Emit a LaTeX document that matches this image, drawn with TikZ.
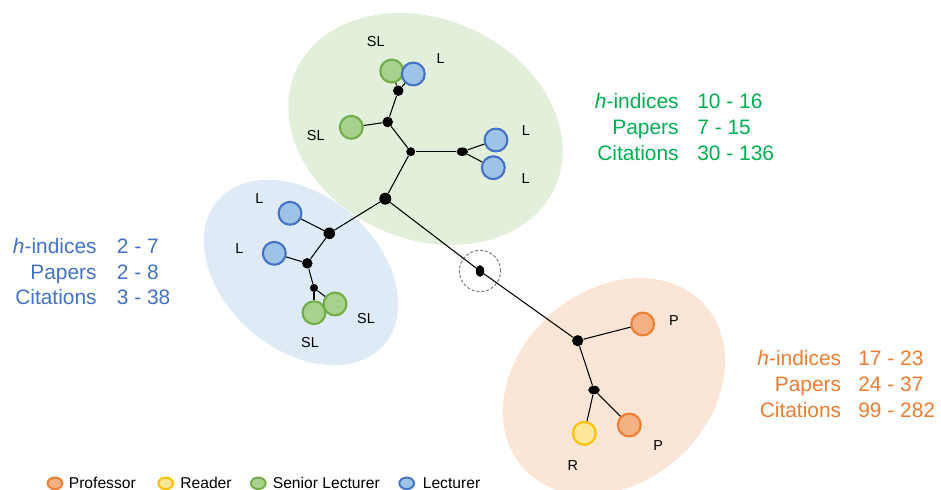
\documentclass[tikz,border=0pt]{standalone}
\usepackage{fontspec}
\setmainfont{Liberation Sans}
\usetikzlibrary{shapes.geometric}

\definecolor{slfill}{HTML}{A9D18E}
\definecolor{sldraw}{HTML}{70AD47}
\definecolor{lfill}{HTML}{9DC3E6}
\definecolor{ldraw}{HTML}{4472C4}
\definecolor{pfill}{HTML}{F4B183}
\definecolor{pdraw}{HTML}{ED7D31}
\definecolor{rfill}{HTML}{FFE699}
\definecolor{rdraw}{HTML}{FFC000}
\definecolor{greenzone}{HTML}{E2EFDA}
\definecolor{bluezone}{HTML}{DEEBF7}
\definecolor{orangezone}{HTML}{FBE5D6}
\definecolor{greentext}{HTML}{00B050}

\tikzset{my member/.style={circle, draw, line width=1.2pt, minimum size=13pt, inner sep=0pt},
my sl/.style={my member, fill=slfill, draw=sldraw},
my l/.style={my member, fill=lfill, draw=ldraw},
my p/.style={my member, fill=pfill, draw=pdraw},
my r/.style={my member, fill=rfill, draw=rdraw},
my joint/.style={circle, fill=black, inner sep=0pt, minimum size=6pt},
my flat joint/.style={ellipse, fill=black, inner sep=0pt, minimum width=6.6pt, minimum height=4.8pt},
my edge/.style={line width=0.6pt},
my ring/.style={circle, draw=black!50, dash pattern=on 1.7pt off 1.1pt, line width=0.6pt, minimum size=23.5pt, inner sep=0pt},
my tag/.style={inner sep=0pt, font=\fontsize{8.2}{10}\selectfont},
my stat/.style={inner sep=0pt, font=\fontsize{11.9}{14}\selectfont},
my key/.style={ellipse, draw, line width=1.1pt, minimum width=8.4pt, minimum height=6.6pt, inner sep=0pt},
my key text/.style={inner sep=0pt, anchor=base west, font=\fontsize{8.9}{10}\selectfont},}

\begin{document}
\begin{tikzpicture}[x=0.02cm, y=-0.02cm]
\useasboundingbox (0,0) rectangle (941,490);

% groups
\fill [greenzone, rotate around={-24:(425.5,129.0)}] (425.5,129.0) ellipse [x radius=142, y radius=110];
\fill [bluezone, rotate around={-41:(301.0,272.5)}] (301.0,272.5) ellipse [x radius=110, y radius=77];
\fill [orangezone, rotate around={42:(614.0,386.5)}] (614.0,386.5) ellipse [x radius=122, y radius=96];

% members
\node [my sl] (gsl1) at ( 391.7,  71.0) {};
\node [my l]  (gl1)  at ( 413.3,  74.0) {};
\node [my sl] (gsl2) at ( 351.3, 127.3) {};
\node [my l]  (gl2)  at ( 496.0, 140.0) {};
\node [my l]  (gl3)  at ( 493.3, 167.7) {};
\node [my l]  (bl1)  at ( 290.0, 213.3) {};
\node [my l]  (bl2)  at ( 274.3, 253.3) {};
\node [my sl] (bsl1) at ( 335.0, 304.0) {};
\node [my sl] (bsl2) at ( 314.0, 312.7) {};
\node [my p]  (op1)  at ( 642.7, 324.0) {};
\node [my r]  (or1)  at ( 584.3, 433.3) {};
\node [my p]  (op2)  at ( 629.3, 425.0) {};

% joints
\node [my joint] (gj1) at ( 398.3,  90.7) {};
\node [my joint] (gj2) at ( 387.7, 122.0) {};
\node [my joint, minimum size=5.1pt] (gj3) at ( 410.7, 151.7) {};
\node [my flat joint] (gj4) at ( 462.3, 151.7) {};
\node [my joint, minimum size=6.8pt] (gj5) at ( 385.3, 198.7) {};
\node [my joint, minimum size=6.6pt] (bj1) at ( 329.3, 233.3) {};
\node [my joint] (bj2) at ( 307.3, 263.3) {};
\node [my joint, minimum size=4.6pt] (bj3) at ( 314.0, 288.0) {};
\node [my flat joint, minimum width=4.8pt, minimum height=6.6pt] (root) at ( 480.0, 271.0) {};
\node [my ring] (ring) at ( 480.0, 271.0) {};
\node [my joint, minimum size=6.4pt] (oj1) at ( 577.7, 340.7) {};
\node [my flat joint] (oj2) at ( 594.0, 390.0) {};

% branches
\draw [my edge] (gj1) -- (gsl1);
\draw [my edge] (gj1) -- (gl1);
\draw [my edge] (gj1) -- (gj2);
\draw [my edge] (gj2) -- (gsl2);
\draw [my edge] (gj2) -- (gj3);
\draw [my edge] (gj3) -- (gj4);
\draw [my edge] (gj4) -- (gl2);
\draw [my edge] (gj4) -- (gl3);
\draw [my edge] (gj3) -- (gj5);
\draw [my edge] (gj5) -- (bj1);
\draw [my edge] (gj5) -- (root);
\draw [my edge] (bj1) -- (bl1);
\draw [my edge] (bj1) -- (bj2);
\draw [my edge] (bj2) -- (bl2);
\draw [my edge] (bj2) -- (bj3);
\draw [my edge] (bj3) -- (bsl1);
\draw [my edge] (bj3) -- (bsl2);
\draw [my edge] (root) -- (oj1);
\draw [my edge] (oj1) -- (op1);
\draw [my edge] (oj1) -- (oj2);
\draw [my edge] (oj2) -- (or1);
\draw [my edge] (oj2) -- (op2);

% role tags
\node [my tag] (tgsl1) at ( 375.7,  41.7) {SL};
\node [my tag] (tgl1)  at ( 440.7,  58.7) {L};
\node [my tag] (tgsl2) at ( 315.7, 135.3) {SL};
\node [my tag] (tgl2)  at ( 526.0, 131.0) {L};
\node [my tag] (tgl3)  at ( 525.7, 179.0) {L};
\node [my tag] (tbl1)  at ( 259.3, 198.3) {L};
\node [my tag] (tbl2)  at ( 239.3, 249.0) {L};
\node [my tag] (tbsl1) at ( 366.0, 318.3) {SL};
\node [my tag] (tbsl2) at ( 310.0, 342.3) {SL};
\node [my tag] (top1)  at ( 674.0, 320.7) {P};
\node [my tag] (top2)  at ( 658.3, 446.0) {P};
\node [my tag] (tor1)  at ( 572.7, 466.0) {R};

% group figures
\node [my stat, text=greentext, anchor=base east] (gh)  at ( 679.0, 108.0) {\textit{h}-indices};
\node [my stat, text=greentext, anchor=base west] (ghv) at ( 697.0, 108.0) {10 - 16};
\node [my stat, text=greentext, anchor=base east] (gp)  at ( 679.0, 134.0) {Papers};
\node [my stat, text=greentext, anchor=base west] (gpv) at ( 697.0, 134.0) {7 - 15};
\node [my stat, text=greentext, anchor=base east] (gc)  at ( 679.0, 160.0) {Citations};
\node [my stat, text=greentext, anchor=base west] (gcv) at ( 697.0, 160.0) {30 - 136};

\node [my stat, text=ldraw, anchor=base east] (bh)  at (  97.0, 253.5) {\textit{h}-indices};
\node [my stat, text=ldraw, anchor=base west] (bhv) at ( 116.5, 253.5) {2 - 7};
\node [my stat, text=ldraw, anchor=base east] (bp)  at (  97.0, 279.0) {Papers};
\node [my stat, text=ldraw, anchor=base west] (bpv) at ( 116.5, 279.0) {2 - 8};
\node [my stat, text=ldraw, anchor=base east] (bc)  at (  97.0, 304.5) {Citations};
\node [my stat, text=ldraw, anchor=base west] (bcv) at ( 116.5, 304.5) {3 - 38};

\node [my stat, text=pdraw, anchor=base east] (oh)  at ( 841.5, 365.0) {\textit{h}-indices};
\node [my stat, text=pdraw, anchor=base west] (ohv) at ( 858.0, 365.0) {17 - 23};
\node [my stat, text=pdraw, anchor=base east] (op)  at ( 841.5, 391.0) {Papers};
\node [my stat, text=pdraw, anchor=base west] (opv) at ( 858.0, 391.0) {24 - 37};
\node [my stat, text=pdraw, anchor=base east] (oc)  at ( 841.5, 417.0) {Citations};
\node [my stat, text=pdraw, anchor=base west] (ocv) at ( 858.0, 417.0) {99 - 282};

% legend
\node [my key, fill=pfill, draw=pdraw]   (kp)  at (  55.0, 483.3) {};
\node [my key text] (kpt)  at (  68.5, 488.3) {Professor};
\node [my key, fill=rfill, draw=rdraw]   (kr)  at ( 165.7, 483.3) {};
\node [my key text] (krt)  at ( 180.0, 488.3) {Reader};
\node [my key, fill=slfill, draw=sldraw] (ksl) at ( 258.3, 483.3) {};
\node [my key text] (kslt) at ( 272.5, 488.3) {Senior Lecturer};
\node [my key, fill=lfill, draw=ldraw]   (kl)  at ( 406.7, 483.3) {};
\node [my key text] (klt)  at ( 422.5, 488.3) {Lecturer};
\end{tikzpicture}
\end{document}
